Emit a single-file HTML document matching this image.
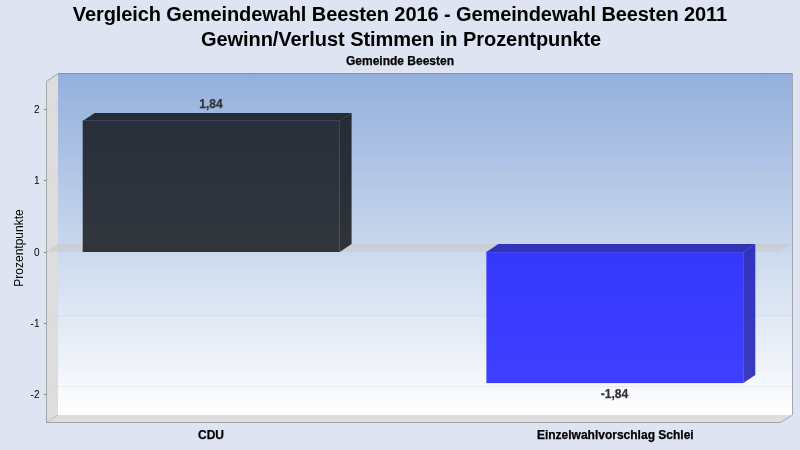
<!DOCTYPE html>
<html><head><meta charset="utf-8">
<style>
html,body{margin:0;padding:0;}
body{width:800px;height:450px;overflow:hidden;background:#dfe4f3;font-family:"Liberation Sans",sans-serif;}
svg{display:block;will-change:transform;}
text{font-family:"Liberation Sans",sans-serif;}
</style></head><body>
<svg width="800" height="450" viewBox="0 0 800 450">
<defs>
<linearGradient id="bg" gradientUnits="userSpaceOnUse" x1="0" y1="73" x2="0" y2="415">
<stop offset="0" stop-color="#92afdc"/>
<stop offset="1" stop-color="#ffffff"/>
</linearGradient>
</defs>
<rect x="0" y="0" width="800" height="450" fill="#dfe4f3"/>
<text x="72.8" y="21" font-size="20" font-weight="bold" textLength="654.3" lengthAdjust="spacing" fill="#000">Vergleich Gemeindewahl Beesten 2016 - Gemeindewahl Beesten 2011</text>
<text x="200.9" y="46" font-size="20" font-weight="bold" textLength="400.3" lengthAdjust="spacing" fill="#000">Gewinn/Verlust Stimmen in Prozentpunkte</text>
<text x="400" y="65" font-size="12" font-weight="bold" text-anchor="middle" fill="#000" stroke="#000" stroke-width="0.25">Gemeinde Beesten</text>

<!-- back wall -->
<rect x="58" y="73" width="734" height="342" fill="url(#bg)"/>
<!-- left wall -->
<polygon points="46,81 58,73 58,415 46,423" fill="#dddddd"/>
<!-- floor -->
<polygon points="46,423 58,415 792,415 780,423" fill="#dddddd"/>
<!-- outline -->
<path d="M46.5,423 L46.5,81.5 L58.5,73.5 L792.5,73.5 L792.5,415 L780.5,422.5 L46.5,422.5" fill="none" stroke="#808080" stroke-opacity="0.6" stroke-width="1"/>
<line x1="46.5" y1="422.5" x2="58" y2="415" stroke="#808080" stroke-opacity="0.3" stroke-width="1"/>

<!-- zero band -->
<polygon points="46,252 58,244 792,244 780,252" fill="#cdcdcd" fill-opacity="0.65"/>
<!-- gridlines back -->
<g stroke="#c0c0c0" stroke-width="0.5" stroke-dasharray="2,2" fill="none">
<path d="M46.5,109.5 L58.5,101.5"/>
<path d="M46.5,180.5 L58.5,172.5"/>
<path d="M46.5,252.5 L58.5,244.5"/>
<path d="M46.5,323.5 L58.5,315.5"/>
<path d="M46.5,394.5 L58.5,386.5"/>
<path d="M58.5,101.5 L792,101.5"/>
<path d="M58.5,172.5 L792,172.5"/>
<path d="M58.5,244.5 L792,244.5"/>
<path d="M58.5,315.5 L792,315.5"/>
<path d="M58.5,386.5 L792,386.5"/>
</g>

<!-- ticks -->
<g stroke="#808080" stroke-width="1">
<line x1="44" y1="109.5" x2="46" y2="109.5"/>
<line x1="44" y1="180.5" x2="46" y2="180.5"/>
<line x1="44" y1="252.5" x2="46" y2="252.5"/>
<line x1="44" y1="323.5" x2="46" y2="323.5"/>
<line x1="44" y1="394.5" x2="46" y2="394.5"/>
</g>
<g font-size="10" fill="#000" text-anchor="end">
<text x="39.5" y="113">2</text>
<text x="39.5" y="184">1</text>
<text x="39.5" y="256">0</text>
<text x="39.5" y="327">-1</text>
<text x="39.5" y="398">-2</text>
</g>
<text transform="translate(23,248) rotate(-90)" font-size="12" text-anchor="middle" fill="#000">Prozentpunkte</text>

<!-- bar 1 CDU -->
<g fill-opacity="0.8">
<rect x="82.7" y="120.9" width="256.9" height="131.1" fill="#0b0d10"/>
<polygon points="339.6,252 339.6,120.9 351.6,112.9 351.6,244" fill="#08090b"/>
<polygon points="82.7,120.9 94.7,112.9 351.6,112.9 339.6,120.9" fill="#08090b"/>
</g>
<rect x="83" y="120" width="256" height="1" fill="#3e4556"/>

<!-- bar 2 -->
<g fill-opacity="0.8">
<rect x="486.4" y="252" width="256.9" height="131.1" fill="#1010ff"/>
<polygon points="743.3,383.1 743.3,252 755.3,244 755.3,375.1" fill="#0b0bb2"/>
<polygon points="486.4,252 498.4,244 755.3,244 743.3,252" fill="#0b0bb2"/>
</g>
<rect x="486" y="252" width="257" height="1" fill="#4646f4"/>

<!-- value labels -->
<text x="211" y="108" font-size="12" font-weight="bold" text-anchor="middle" fill="#333" stroke="#333" stroke-width="0.25">1,84</text>
<text x="614.4" y="398" font-size="12" font-weight="bold" text-anchor="middle" fill="#333" stroke="#333" stroke-width="0.25">-1,84</text>

<!-- category labels -->
<text x="211" y="439" font-size="12" font-weight="bold" text-anchor="middle" fill="#000" stroke="#000" stroke-width="0.25">CDU</text>
<text x="615.3" y="439" font-size="12" font-weight="bold" text-anchor="middle" fill="#000" stroke="#000" stroke-width="0.25">Einzelwahlvorschlag Schlei</text>
</svg>
</body></html>
